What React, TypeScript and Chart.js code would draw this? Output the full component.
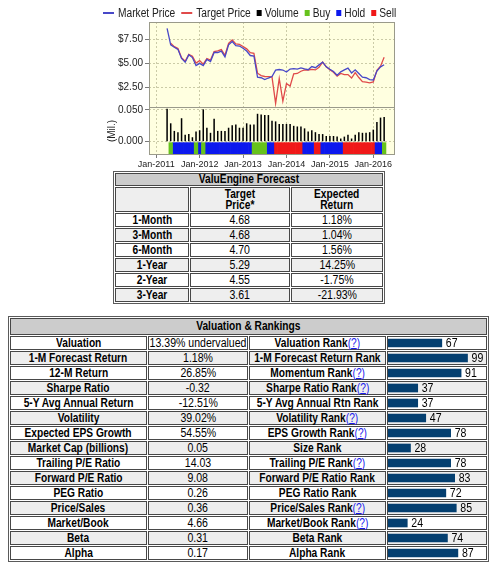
import React, { useEffect, useRef } from "react";
import { Chart, registerables } from "chart.js";

Chart.register(...registerables);

const FONT = "'Liberation Sans', Arial, Helvetica, sans-serif";

// ---------------- chart data ----------------
const monthNames = ["Jan", "Feb", "Mar", "Apr", "May", "Jun", "Jul", "Aug", "Sep", "Oct", "Nov", "Dec"];
const axisYears = [2010, 2011, 2012, 2013, 2014, 2015, 2016];
const axisFirst = "Nov-2010";
const axisLast = "Jul-2016";
const dataFirst = "Apr-2011";
const dataLast = "Apr-2016";

const marketPrice = [
  8.65, 6.93, 6.69, 6.47, 5.52, 5.14, 5.9, 5.62, 4.78, 5.02,
  4.78, 5.43, 5.2, 6.14, 6.14, 6.29, 5.69, 6.93, 7.28, 6.86,
  6.81, 6.58, 6.29, 5.83, 5.78, 3.58, 3.53, 3.34, 3.5, 3.65,
  4.31, 4.38, 4.33, 4.12, 4.43, 4.48, 4.42, 4.55, 4.45, 4.36,
  4.69, 4.57, 4.86, 5.15, 4.66, 4.4, 4.17, 3.79, 4.14, 4.35,
  4.53, 4.02, 4.35, 3.97, 3.58, 3.53, 3.34, 3.3, 4.22, 4.66,
  4.88,
];

const targetPrice = [
  null, 7.1, 6.75, 6.55, 5.59, 5.24, 5.95, 5.76, 5.05, 5.3,
  4.93, 5.52, 5.36, 6.24, 6.3, 6.45, 5.86, 7.1, 7.45, 7.03,
  6.98, 6.77, 6.52, 6.12, 6.06, 4.0, 3.75, 3.66, 3.65, 3.62,
  0.87, 3.45, 1.1, 2.93, 2.66, 3.93, 3.97, 4.2, 4.35, 4.33,
  4.4, 4.34, 4.6, 5.15, 4.66, 4.36, 4.1, 3.69, 3.97, 3.85,
  3.85, 3.5, 4.05, 3.55, 3.12, 3.07, 3.0, 3.1, 4.3, 4.72,
  5.65,
];

const volume = [
  0.052, 0.029, 0.017, 0.015, 0.037, 0.011, 0.012, 0.007, 0.016, 0.018,
  0.051, 0.022, 0.014, 0.036, 0.017, 0.017, 0.017, 0.022, 0.026, 0.027,
  0.022, 0.022, 0.029, 0.027, 0.027, 0.044, 0.043, 0.042, 0.042, 0.033,
  0.032, 0.028, 0.028, 0.028, 0.028, 0.025, 0.024, 0.024, 0.021, 0.016,
  0.018, 0.015, 0.012, 0.012, 0.009, 0.009, 0.009, 0.008, 0.005, 0.008,
  0.011, 0.005, 0.011, 0.015, 0.014, 0.014, 0.015, 0.019, 0.031, 0.038,
  0.039,
];

// B = Buy, H = Hold, S = Sell
const rating = [
  "", "B", "H", "H", "H", "H", "H", "H", "B", "H",
  "B", "H", "H", "H", "H", "H", "H", "H", "H", "H",
  "H", "H", "H", "H", "B", "B", "B", "B", "H", "H",
  "S", "S", "S", "S", "S", "S", "S", "S", "H", "H",
  "H", "S", "S", "H", "H", "H", "H", "H", "H", "S",
  "S", "S", "S", "S", "S", "S", "S", "S", "H", "H",
  "B",
];

const priceTicks = [2.5, 5, 7.5];
const volumeTicks = [0, 0.025, 0.05];
const priceRange = [0.5, 9.3];
const volumeRange = [-0.021, 0.0547];
const ratingBand = [-0.0195, -0.0015];

const seriesNames = ["Market Price", "Target Price", "Volume", "Buy", "Hold", "Sell"];
const ratingCodes = ["B", "H", "S"];

// ---------------- table data ----------------
const forecastHorizons = ["1-Month", "3-Month", "6-Month", "1-Year", "2-Year", "3-Year"];
const forecastTargets = ["4.68", "4.68", "4.70", "5.29", "4.55", "3.61"];
const forecastReturns = ["1.18%", "1.04%", "1.56%", "14.25%", "-1.75%", "-21.93%"];

const metricNames = [
  "Valuation", "1-M Forecast Return", "12-M Return", "Sharpe Ratio", "5-Y Avg Annual Return",
  "Volatility", "Expected EPS Growth", "Market Cap (billions)", "Trailing P/E Ratio",
  "Forward P/E Ratio", "PEG Ratio", "Price/Sales", "Market/Book", "Beta", "Alpha",
];
const metricValues = [
  "13.39% undervalued", "1.18%", "26.85%", "-0.32", "-12.51%", "39.02%", "54.55%",
  "0.05", "14.03", "9.08", "0.26", "0.36", "4.66", "0.31", "0.17",
];
const rankNames = [
  "Valuation Rank", "1-M Forecast Return Rank", "Momentum Rank", "Sharpe Ratio Rank",
  "5-Y Avg Annual Rtn Rank", "Volatility Rank", "EPS Growth Rank", "Size Rank",
  "Trailing P/E Rank", "Forward P/E Ratio Rank", "PEG Ratio Rank", "Price/Sales Rank",
  "Market/Book Rank", "Beta Rank", "Alpha Rank",
];
const rankHasHelp = [
  true, false, true, true, false, true, true, false,
  true, false, false, true, true, false, false,
];
const rankValues = [67, 99, 91, 37, 37, 47, 78, 28, 78, 83, 72, 85, 24, 74, 87];
const RANK_MAX = 122;

// ---------------- derived tables ----------------
const allMonths = axisYears.flatMap((y) => monthNames.map((m) => `${m}-${y}`));
const axisLabels = allMonths.slice(allMonths.indexOf(axisFirst), allMonths.indexOf(axisLast) + 1);
const dataMonths = allMonths.slice(allMonths.indexOf(dataFirst), allMonths.indexOf(dataLast) + 1);

const COLORS = {
  market: "#4848c8",
  target: "#e04a4a",
  volume: "#000000",
  buy: "#66c21c",
  hold: "#0c18ee",
  sell: "#f01818",
  plotBg: "#ffffe0",
  frame: "#9a9a8a",
  grid: "rgba(160,160,120,0.55)",
  tick: "#7a7a7a",
  text: "#222222",
  rank: "#043f70",
};

const BOLD_SX = 0.85;
const NORMAL_SX = 0.88;
const LEGEND_SX = 0.85;

function narrowText(ctx: any, text: string, x: number, y: number, sx: number) {
  ctx.save();
  ctx.translate(x, y);
  ctx.scale(sx, 1);
  ctx.fillText(text, 0, 0);
  ctx.restore();
}

const frameAndLegend = {
  id: "frameAndLegend",
  beforeDraw(chart: any) {
    const { ctx, chartArea: a } = chart;
    ctx.save();
    ctx.fillStyle = COLORS.plotBg;
    ctx.fillRect(a.left, a.top, a.right - a.left, a.bottom - a.top);
    ctx.restore();
  },
  afterDraw(chart: any) {
    const { ctx, chartArea: a } = chart;
    ctx.save();
    ctx.strokeStyle = COLORS.frame;
    ctx.lineWidth = 1;
    const l = Math.round(a.left) + 0.5;
    const r = Math.round(a.right) - 0.5;
    const t = Math.round(a.top) + 0.5;
    const b = Math.round(a.bottom) - 0.5;
    ctx.strokeRect(l, t, r - l, b - t);
    const sep = Math.round(chart.scales.y2.top) + 0.5;
    ctx.beginPath();
    ctx.moveTo(l, sep);
    ctx.lineTo(r, sep);
    ctx.stroke();

    // legend
    const items = chart.data.datasets.map((ds: any) => ({
      text: ds.label as string,
      color: (ds.type === "line" ? ds.borderColor : ds.backgroundColor) as string,
      line: ds.type === "line",
    }));
    ctx.font = `12px ${FONT}`;
    ctx.textBaseline = "middle";
    const mw = (it: any) => (it.line ? 11 : 5);
    const mg = (it: any) => (it.line ? 4 : 3);
    const ig = 6;
    const widths = items.map((it: any) => mw(it) + mg(it) + ctx.measureText(it.text).width * LEGEND_SX);
    const total = widths.reduce((s: number, w: number) => s + w, 0) + ig * (items.length - 1);
    let x = Math.round((chart.width - total) / 2) + 2;
    const y = 13;
    items.forEach((it: any, i: number) => {
      ctx.fillStyle = it.color;
      if (it.line) ctx.fillRect(x, y - 1, 11, 2);
      else ctx.fillRect(x, y - 3, 5, 6);
      ctx.fillStyle = COLORS.text;
      narrowText(ctx, it.text, x + mw(it) + mg(it), y + 0.5, LEGEND_SX);
      x += widths[i] + ig;
    });
    ctx.restore();
  },
};

function PriceChart() {
  const ref = useRef<HTMLCanvasElement>(null);
  useEffect(() => {
    const pts = (vals: any[]) => dataMonths.map((m, i) => ({ x: m, y: vals[i] }));
    const band = (code: string) =>
      dataMonths.map((m, i) => ({ x: m, y: rating[i] === code ? [ratingBand[0], ratingBand[1]] : null }));
    const ratingColors = [COLORS.buy, COLORS.hold, COLORS.sell];

    const chart = new Chart(ref.current!, {
      type: "bar",
      data: {
        labels: axisLabels,
        datasets: [
          {
            type: "line",
            label: seriesNames[0],
            data: pts(marketPrice),
            borderColor: COLORS.market,
            backgroundColor: COLORS.market,
            borderWidth: 1.3,
            pointRadius: 0,
            tension: 0,
            yAxisID: "y",
            order: 0,
          },
          {
            type: "line",
            label: seriesNames[1],
            data: pts(targetPrice),
            borderColor: COLORS.target,
            backgroundColor: COLORS.target,
            borderWidth: 1.3,
            pointRadius: 0,
            tension: 0,
            yAxisID: "y",
            order: 1,
          },
          {
            type: "bar",
            label: seriesNames[2],
            data: pts(volume),
            backgroundColor: COLORS.volume,
            yAxisID: "y2",
            barPercentage: 0.42,
            categoryPercentage: 1,
            grouped: false,
            order: 2,
          },
          ...ratingCodes.map((code, i) => ({
            type: "bar",
            label: seriesNames[3 + i],
            data: band(code),
            backgroundColor: ratingColors[i],
            yAxisID: "y2",
            barPercentage: 1,
            categoryPercentage: 1,
            grouped: false,
            borderWidth: 0,
            order: 3,
          })),
        ] as any,
      },
      options: {
        responsive: false,
        maintainAspectRatio: false,
        animation: false,
        events: [],
        layout: { padding: { top: 22, right: 3, left: 0, bottom: 0 } },
        plugins: { legend: { display: false }, tooltip: { enabled: false } },
        scales: {
          x: {
            type: "category",
            offset: false,
            grid: {
              offset: false,
              color: COLORS.grid,
              tickColor: COLORS.tick,
              tickLength: 3,
              drawTicks: true,
            },
            border: { display: false, dash: [2, 2] },
            ticks: {
              autoSkip: false,
              maxRotation: 0,
              font: { family: FONT, size: 9 },
              color: COLORS.text,
              padding: 1,
            },
            afterBuildTicks: (s: any) => {
              s.ticks = s.ticks.filter((t: any) => String(axisLabels[t.value]).startsWith("Jan"));
            },
            afterFit: (s: any) => {
              s.height = 16;
            },
          },
          y: {
            type: "linear",
            position: "left",
            stack: "panels",
            stackWeight: 85,
            weight: 2,
            min: priceRange[0],
            max: priceRange[1],
            afterBuildTicks: (s: any) => {
              s.ticks = priceTicks.map((v) => ({ value: v }));
            },
            ticks: {
              font: { family: FONT, size: 10 },
              color: COLORS.text,
              padding: 2,
              callback: (v: any) => "$" + Number(v).toFixed(2),
            },
            grid: { color: COLORS.grid, tickColor: COLORS.tick, tickLength: 4 },
            border: { display: false, dash: [2, 2] },
            afterFit: (s: any) => {
              s.width = 52;
            },
          },
          y2: {
            type: "linear",
            position: "left",
            stack: "panels",
            stackWeight: 48,
            weight: 1,
            min: volumeRange[0],
            max: volumeRange[1],
            afterBuildTicks: (s: any) => {
              s.ticks = volumeTicks.map((v) => ({ value: v }));
            },
            ticks: {
              font: { family: FONT, size: 10 },
              color: COLORS.text,
              padding: 2,
              callback: (v: any) => Number(v).toFixed(3),
            },
            title: {
              display: true,
              text: "(Mil.)",
              font: { family: FONT, size: 10 },
              color: COLORS.text,
              padding: { top: 9, bottom: 0 },
            },
            grid: { color: COLORS.grid, tickColor: COLORS.tick, tickLength: 4 },
            border: { display: false, dash: [2, 2] },
            afterFit: (s: any) => {
              s.width = 52;
            },
          },
        },
      } as any,
      plugins: [frameAndLegend],
    });
    return () => chart.destroy();
  }, []);
  return <canvas ref={ref} width={301} height={171} style={{ display: "block", marginLeft: 97 }} />;
}

const rankLabel = {
  id: "rankLabel",
  afterDatasetsDraw(chart: any) {
    const bar = chart.getDatasetMeta(0).data[0];
    if (!bar) return;
    const ctx = chart.ctx;
    ctx.save();
    ctx.font = `12px ${FONT}`;
    ctx.fillStyle = "#000";
    ctx.textBaseline = "middle";
    narrowText(ctx, String(chart.data.datasets[0].data[0]), bar.x + 4, bar.y + 0.5, NORMAL_SX);
    ctx.restore();
  },
};

function RankBar({ value }: { value: number }) {
  const ref = useRef<HTMLCanvasElement>(null);
  useEffect(() => {
    const chart = new Chart(ref.current!, {
      type: "bar",
      data: {
        labels: [""],
        datasets: [{ data: [value], backgroundColor: COLORS.rank, barThickness: 8, borderWidth: 0 }],
      },
      options: {
        indexAxis: "y",
        responsive: false,
        animation: false,
        events: [],
        layout: { padding: 0 },
        plugins: { legend: { display: false }, tooltip: { enabled: false } },
        scales: {
          x: { display: false, min: 0, max: RANK_MAX },
          y: { display: false },
        },
      } as any,
      plugins: [rankLabel],
    });
    return () => chart.destroy();
  }, [value]);
  return <canvas ref={ref} width={98} height={12} style={{ display: "block" }} />;
}

const CELL_BORDER = "1px solid #474747";
const GRAY = "#eeeeee";
const HEAD = "#cccccc";

function Cell(props: {
  w?: number;
  h: number;
  bg?: string;
  bold?: boolean;
  colSpan?: number;
  children?: any;
  lh?: number;
}) {
  const { w, h, bg, bold, colSpan, children, lh } = props;
  return (
    <td colSpan={colSpan} style={{ padding: 0, border: CELL_BORDER, background: bg || "#ffffff" }}>
      <div
        style={{
          width: w !== undefined ? w - 2 : undefined,
          height: h - 2,
          display: "flex",
          justifyContent: "center",
          alignItems: "center",
          overflow: "visible",
        }}
      >
        <span
          style={{
            display: "inline-flex",
            flexDirection: "column",
            alignItems: "center",
            whiteSpace: "nowrap",
            lineHeight: `${lh || h - 2}px`,
            fontWeight: bold ? "bold" : "normal",
            transform: `scaleX(${bold ? BOLD_SX : NORMAL_SX})`,
            transformOrigin: "center",
            flexShrink: 0,
          }}
        >
          {children}
        </span>
      </div>
    </td>
  );
}

const tableStyle: any = {
  borderCollapse: "separate",
  borderSpacing: 1,
  border: "1px solid #5a5a5a",
  fontFamily: FONT,
  fontSize: 12,
  color: "#000",
};

function ForecastTable() {
  const cw = [74, 100, 92];
  return (
    <table style={{ ...tableStyle, marginLeft: 113 }}>
      <tbody>
        <tr>
          <Cell h={13} bg={HEAD} bold colSpan={3}>ValuEngine Forecast</Cell>
        </tr>
        <tr>
          <Cell w={cw[0]} h={25} bg={GRAY} />
          <Cell w={cw[1]} h={25} bg={GRAY} bold lh={11}>
            <span>Target</span>
            <span>Price*</span>
          </Cell>
          <Cell w={cw[2]} h={25} bg={GRAY} bold lh={11}>
            <span>Expected</span>
            <span>Return</span>
          </Cell>
        </tr>
        {forecastHorizons.map((hz, i) => {
          const bg = i % 2 === 0 ? "#ffffff" : GRAY;
          return (
            <tr key={hz}>
              <Cell w={cw[0]} h={14} bg={bg} bold>{hz}</Cell>
              <Cell w={cw[1]} h={14} bg={bg}>{forecastTargets[i]}</Cell>
              <Cell w={cw[2]} h={14} bg={bg}>{forecastReturns[i]}</Cell>
            </tr>
          );
        })}
      </tbody>
    </table>
  );
}

function RankingsTable() {
  const cw = [137, 100, 137, 100];
  return (
    <table style={{ ...tableStyle, marginLeft: 8, marginTop: 12 }}>
      <tbody>
        <tr>
          <Cell h={17} bg={HEAD} bold colSpan={4}>Valuation &amp; Rankings</Cell>
        </tr>
        {metricNames.map((name, i) => {
          const bg = i % 2 === 0 ? "#ffffff" : GRAY;
          return (
            <tr key={name}>
              <Cell w={cw[0]} h={14} bg={bg} bold>{name}</Cell>
              <Cell w={cw[1]} h={14} bg={bg}>{metricValues[i]}</Cell>
              <Cell w={cw[2]} h={14} bg={bg} bold>
                <span>
                  {rankNames[i]}
                  {rankHasHelp[i] ? (
                    <span style={{ color: "#1a1aee", fontWeight: "normal" }}>
                      (<span style={{ textDecoration: "underline" }}>?</span>)
                    </span>
                  ) : null}
                </span>
              </Cell>
              <td style={{ padding: 0, border: CELL_BORDER, background: bg }}>
                <div style={{ width: cw[3] - 2, height: 12 }}>
                  <RankBar value={rankValues[i]} />
                </div>
              </td>
            </tr>
          );
        })}
      </tbody>
    </table>
  );
}

export default function App() {
  return (
    <div
      style={{
        position: "absolute",
        left: 0,
        top: 0,
        width: 495,
        height: 567,
        background: "#ffffff",
        fontFamily: FONT,
      }}
    >
      <PriceChart />
      <ForecastTable />
      <RankingsTable />
    </div>
  );
}
